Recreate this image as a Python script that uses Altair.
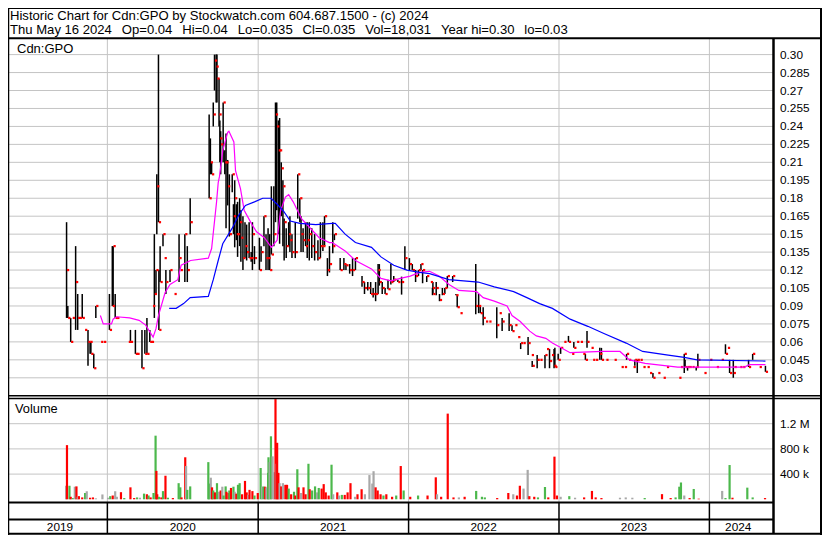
import altair as alt
import pandas as pd

# ---------------- daily bars (date, low, high, close) ----------------
bar_dates = (
    ["2019-09-24", "2019-09-27", "2019-10-04", "2019-10-08", "2019-10-16", "2019-10-21", "2019-10-25", "2019-11-01",
     "2019-11-07", "2019-11-15", "2019-11-20", "2019-11-22", "2019-11-29", "2019-12-04", "2019-12-16", "2019-12-23"]
    + ["2020-01-06", "2020-01-13", "2020-01-15", "2020-01-20", "2020-01-24", "2020-02-21", "2020-02-26", "2020-03-09",
       "2020-03-13", "2020-03-25", "2020-04-01", "2020-04-06", "2020-04-13", "2020-04-17", "2020-04-20", "2020-04-24",
       "2020-04-28", "2020-04-30", "2020-05-04", "2020-05-05", "2020-05-08", "2020-05-15", "2020-05-18", "2020-05-22",
       "2020-06-01", "2020-06-11",
       "2020-06-23", "2020-06-26", "2020-07-07", "2020-07-13", "2020-07-20", "2020-09-04", "2020-09-07", "2020-09-10",
       "2020-09-14", "2020-09-17", "2020-09-21", "2020-09-23", "2020-09-28", "2020-09-30", "2020-10-02", "2020-10-08",
       "2020-10-12", "2020-10-15", "2020-10-19", "2020-10-23", "2020-10-30", "2020-11-02", "2020-11-05", "2020-11-09",
       "2020-11-12", "2020-11-17", "2020-11-20", "2020-11-25", "2020-11-30", "2020-12-04", "2020-12-10", "2020-12-15",
       "2020-12-18", "2020-12-23"]
    + ["2021-01-04", "2021-01-08", "2021-01-15", "2021-01-20", "2021-01-25", "2021-01-29", "2021-02-02", "2021-02-08",
       "2021-02-12", "2021-02-15", "2021-02-19", "2021-02-22", "2021-02-26", "2021-03-02", "2021-03-05", "2021-03-10",
       "2021-03-16", "2021-03-19", "2021-03-24", "2021-04-01", "2021-04-07", "2021-04-12", "2021-04-15", "2021-04-20",
       "2021-04-26", "2021-04-30", "2021-05-05", "2021-05-11", "2021-05-18", "2021-05-26", "2021-06-01",
       "2021-06-07", "2021-06-11", "2021-06-18", "2021-06-23", "2021-07-01", "2021-07-05", "2021-07-19", "2021-07-28",
       "2021-08-02", "2021-08-11", "2021-08-18", "2021-08-25", "2021-09-10", "2021-09-16", "2021-09-24", "2021-10-01",
       "2021-10-07", "2021-10-13", "2021-10-19", "2021-10-22", "2021-10-29", "2021-11-05", "2021-11-12", "2021-11-19",
       "2021-11-26", "2021-12-06", "2021-12-15", "2021-12-23"]
    + ["2022-01-03", "2022-01-10", "2022-01-18", "2022-01-25", "2022-01-31",
       "2022-02-04", "2022-02-14", "2022-02-23", "2022-02-28", "2022-03-01", "2022-03-09", "2022-03-17", "2022-03-24",
       "2022-03-30", "2022-04-05", "2022-04-18", "2022-04-26", "2022-04-29", "2022-05-06", "2022-06-13", "2022-06-20",
       "2022-06-24", "2022-07-01", "2022-07-07", "2022-07-15", "2022-08-03", "2022-08-09", "2022-08-16", "2022-09-02",
       "2022-09-09", "2022-09-16", "2022-09-23", "2022-09-30", "2022-10-06", "2022-10-18", "2022-10-26", "2022-10-28",
       "2022-11-09", "2022-11-16", "2022-11-28", "2022-12-02", "2022-12-09", "2022-12-14", "2022-12-20",
       "2022-12-22", "2022-12-30"]
    + ["2023-01-05", "2023-01-13", "2023-01-24", "2023-02-01", "2023-02-06", "2023-02-13", "2023-02-22", "2023-02-28",
       "2023-03-06", "2023-03-10", "2023-03-20", "2023-03-24", "2023-03-31", "2023-04-10", "2023-04-14", "2023-04-25",
       "2023-05-15", "2023-06-01", "2023-06-09", "2023-06-14", "2023-06-19", "2023-06-30", "2023-07-04", "2023-07-10",
       "2023-07-17", "2023-07-24", "2023-08-03", "2023-08-09", "2023-08-17", "2023-08-29", "2023-09-11", "2023-09-19",
       "2023-10-19", "2023-10-23", "2023-11-01", "2023-11-03", "2023-11-09", "2023-11-13", "2023-11-20", "2023-11-30",
       "2023-12-04", "2023-12-19"]
    + ["2024-01-02", "2024-01-18", "2024-01-30", "2024-02-09", "2024-02-14", "2024-02-19", "2024-02-28", "2024-03-01",
       "2024-03-15", "2024-03-22", "2024-04-05", "2024-04-15", "2024-05-01", "2024-05-16"]
)
bar_low = (
    [0.08, 0.08, 0.06, 0.08, 0.07, 0.07, 0.08, 0.08, 0.07, 0.04, 0.05, 0.05, 0.038, 0.08, 0.06, 0.06]
    + [0.07, 0.09, 0.09, 0.08, 0.08, 0.06, 0.06, 0.05, 0.05, 0.038, 0.05, 0.05, 0.06, 0.06, 0.09, 0.08,
       0.10, 0.15, 0.16, 0.07, 0.11, 0.14, 0.13, 0.10, 0.11, 0.10,
       0.11, 0.12, 0.11, 0.11, 0.15, 0.18, 0.20, 0.20, 0.24, 0.27, 0.26, 0.26, 0.24, 0.21, 0.20, 0.21,
       0.20, 0.155, 0.174, 0.148, 0.185, 0.15, 0.139, 0.145, 0.131, 0.14, 0.127, 0.12, 0.13, 0.128, 0.13, 0.127,
       0.12, 0.125]
    + [0.12, 0.127, 0.14, 0.12, 0.12, 0.12, 0.133, 0.14, 0.16, 0.17, 0.15, 0.142, 0.165, 0.14, 0.128, 0.13,
       0.14, 0.135, 0.13, 0.13, 0.163, 0.16, 0.135, 0.135, 0.14, 0.13, 0.128, 0.13, 0.128, 0.128, 0.13,
       0.136, 0.14, 0.115, 0.118, 0.134, 0.145, 0.12, 0.12, 0.12, 0.117, 0.115, 0.12, 0.106, 0.10, 0.103, 0.10,
       0.097, 0.094, 0.10, 0.107, 0.10, 0.10, 0.104, 0.108, 0.11, 0.11, 0.0995, 0.12]
    + [0.12, 0.12, 0.11, 0.115, 0.12,
       0.109, 0.11, 0.11, 0.099, 0.10, 0.099, 0.094, 0.099, 0.10, 0.105, 0.11, 0.099, 0.089, 0.084, 0.083, 0.084,
       0.084, 0.074, 0.077, 0.077, 0.063, 0.084, 0.069, 0.069, 0.069, 0.074, 0.064, 0.054, 0.059, 0.049, 0.049, 0.039,
       0.038, 0.045, 0.038, 0.054, 0.038, 0.049, 0.038,
       0.039, 0.045]
    + [0.05, 0.06, 0.06, 0.05, 0.055, 0.06, 0.06, 0.05, 0.045, 0.055, 0.055, 0.045, 0.045, 0.045, 0.045, 0.045,
       0.045, 0.039, 0.039, 0.045, 0.045, 0.039, 0.04, 0.034, 0.045, 0.039, 0.039, 0.034, 0.03, 0.034, 0.03, 0.039,
       0.03, 0.039, 0.034, 0.039, 0.036, 0.039, 0.039, 0.036, 0.039, 0.034]
    + [0.045, 0.039, 0.045, 0.05, 0.055, 0.034, 0.03, 0.039, 0.039, 0.039, 0.039, 0.045, 0.039, 0.035]
)
bar_high = (
    [0.16, 0.09, 0.08, 0.08, 0.14, 0.10, 0.08, 0.10, 0.07, 0.07, 0.06, 0.06, 0.05, 0.09, 0.06, 0.06]
    + [0.10, 0.14, 0.14, 0.10, 0.08, 0.06, 0.07, 0.07, 0.05, 0.07, 0.07, 0.08, 0.07, 0.06, 0.09, 0.15,
       0.12, 0.20, 0.30, 0.12, 0.14, 0.15, 0.13, 0.12, 0.12, 0.10,
       0.15, 0.12, 0.15, 0.14, 0.18, 0.25, 0.23, 0.21, 0.26, 0.30, 0.30, 0.30, 0.28, 0.245, 0.236, 0.26,
       0.22, 0.234, 0.212, 0.20, 0.20, 0.175, 0.195, 0.175, 0.177, 0.18, 0.17, 0.165, 0.16, 0.158, 0.16, 0.135,
       0.16, 0.14]
    + [0.147, 0.14, 0.165, 0.15, 0.155, 0.15, 0.19, 0.19, 0.26, 0.26, 0.245, 0.247, 0.21, 0.195, 0.163, 0.155,
       0.16, 0.165, 0.15, 0.16, 0.20, 0.18, 0.165, 0.155, 0.16, 0.16, 0.16, 0.155, 0.15, 0.145, 0.16,
       0.16, 0.165, 0.13, 0.14, 0.16, 0.15, 0.13, 0.13, 0.125, 0.125, 0.13, 0.13, 0.115, 0.11, 0.11, 0.11,
       0.105, 0.11, 0.125, 0.125, 0.11, 0.105, 0.112, 0.125, 0.115, 0.112, 0.1145, 0.14]
    + [0.13, 0.125, 0.12, 0.12, 0.125,
       0.12, 0.115, 0.11, 0.105, 0.11, 0.11, 0.10, 0.105, 0.105, 0.115, 0.115, 0.10, 0.099, 0.084, 0.125, 0.10,
       0.09, 0.089, 0.077, 0.077, 0.089, 0.084, 0.08, 0.084, 0.074, 0.074, 0.064, 0.059, 0.059, 0.064, 0.049, 0.044,
       0.049, 0.045, 0.049, 0.054, 0.054, 0.049, 0.054,
       0.055, 0.05]
    + [0.055, 0.06, 0.065, 0.05, 0.06, 0.06, 0.06, 0.05, 0.05, 0.069, 0.055, 0.045, 0.045, 0.055, 0.055, 0.045,
       0.045, 0.039, 0.039, 0.05, 0.045, 0.039, 0.045, 0.045, 0.045, 0.039, 0.039, 0.034, 0.034, 0.034, 0.03, 0.039,
       0.03, 0.039, 0.05, 0.045, 0.039, 0.039, 0.039, 0.039, 0.05, 0.034]
    + [0.045, 0.039, 0.045, 0.058, 0.055, 0.045, 0.045, 0.039, 0.039, 0.039, 0.045, 0.05, 0.039, 0.04]
)
bar_close = (
    [0.12, 0.08, 0.06, 0.08, 0.11, 0.08, 0.08, 0.08, 0.07, 0.06, 0.06, 0.05, 0.038, 0.09, 0.06, 0.06]
    + [0.07, 0.09, 0.14, 0.08, 0.08, 0.06, 0.06, 0.05, 0.05, 0.038, 0.05, 0.05, 0.06, 0.06, 0.09, 0.10,
       0.12, 0.19, 0.16, 0.07, 0.11, 0.15, 0.13, 0.11, 0.12, 0.10,
       0.13, 0.12, 0.15, 0.12, 0.16, 0.18, 0.21, 0.20, 0.25, 0.295, 0.29, 0.28, 0.25, 0.23, 0.225, 0.26,
       0.21, 0.21, 0.19, 0.15, 0.20, 0.165, 0.18, 0.15, 0.15, 0.16, 0.147, 0.13, 0.14, 0.135, 0.13, 0.13,
       0.15, 0.13]
    + [0.12, 0.135, 0.165, 0.13, 0.13, 0.12, 0.133, 0.15, 0.25, 0.24, 0.22, 0.22, 0.205, 0.19, 0.16, 0.14,
       0.15, 0.145, 0.135, 0.135, 0.20, 0.18, 0.15, 0.145, 0.14, 0.145, 0.15, 0.14, 0.135, 0.13, 0.14,
       0.14, 0.165, 0.12, 0.125, 0.14, 0.15, 0.12, 0.125, 0.124, 0.12, 0.12, 0.13, 0.11, 0.105, 0.105, 0.10,
       0.10, 0.10, 0.12, 0.11, 0.105, 0.10, 0.104, 0.11, 0.112, 0.11, 0.11, 0.13]
    + [0.125, 0.12, 0.115, 0.12, 0.125,
       0.12, 0.115, 0.11, 0.105, 0.10, 0.105, 0.095, 0.10, 0.105, 0.115, 0.115, 0.099, 0.089, 0.084, 0.09, 0.09,
       0.084, 0.08, 0.077, 0.077, 0.074, 0.084, 0.077, 0.074, 0.069, 0.074, 0.064, 0.059, 0.059, 0.059, 0.049, 0.04,
       0.045, 0.045, 0.049, 0.054, 0.044, 0.049, 0.04,
       0.039, 0.045]
    + [0.055, 0.06, 0.06, 0.05, 0.055, 0.06, 0.06, 0.05, 0.045, 0.06, 0.055, 0.045, 0.045, 0.05, 0.045, 0.045,
       0.045, 0.039, 0.039, 0.05, 0.045, 0.039, 0.045, 0.045, 0.045, 0.039, 0.039, 0.034, 0.03, 0.034, 0.03, 0.039,
       0.03, 0.039, 0.05, 0.039, 0.039, 0.039, 0.039, 0.039, 0.045, 0.034]
    + [0.045, 0.039, 0.045, 0.05, 0.055, 0.034, 0.034, 0.039, 0.039, 0.039, 0.039, 0.05, 0.039, 0.035]
)

# ---------------- moving averages ----------------
ma_short_dates = ["2019-12-15", "2019-12-22", "2020-01-11", "2020-01-15", "2020-01-23", "2020-02-24", "2020-03-18",
                  "2020-04-03", "2020-04-21", "2020-04-28", "2020-05-04", "2020-05-20", "2020-06-01", "2020-06-20",
                  "2020-06-28", "2020-07-21", "2020-09-02", "2020-09-10", "2020-09-22", "2020-09-26", "2020-09-29",
                  "2020-10-07", "2020-10-19", "2020-10-22", "2020-11-03", "2020-11-07", "2020-11-19", "2020-11-28",
                  "2020-12-17", "2020-12-28", "2021-01-16", "2021-02-02", "2021-02-16", "2021-02-24", "2021-03-08",
                  "2021-03-16", "2021-03-27", "2021-04-16", "2021-05-02", "2021-05-29", "2021-06-23", "2021-06-30",
                  "2021-07-31", "2021-08-25", "2021-10-03", "2021-10-26", "2021-11-19", "2021-12-12", "2022-01-05",
                  "2022-01-28", "2022-02-21", "2022-03-16", "2022-04-09", "2022-05-03", "2022-06-15", "2022-07-01",
                  "2022-07-28", "2022-08-28", "2022-09-09", "2022-09-29", "2022-10-22", "2022-11-07", "2022-11-30",
                  "2022-12-16", "2023-01-28", "2023-04-16", "2023-05-29", "2023-06-21", "2023-07-29", "2023-10-16",
                  "2024-03-26", "2024-04-07", "2024-05-16"]
ma_short_values = [0.082, 0.075, 0.075, 0.079, 0.081, 0.080, 0.078, 0.074, 0.064, 0.071, 0.082, 0.101, 0.108, 0.112,
                   0.124, 0.128, 0.130, 0.138, 0.177, 0.193, 0.198, 0.220, 0.235, 0.236, 0.227, 0.203, 0.188, 0.170,
                   0.158, 0.152, 0.147, 0.139, 0.145, 0.169, 0.181, 0.183, 0.177, 0.163, 0.157, 0.147, 0.143, 0.143,
                   0.136, 0.128, 0.121, 0.113, 0.111, 0.113, 0.115, 0.118, 0.119, 0.115, 0.108, 0.103, 0.102, 0.097,
                   0.094, 0.090, 0.082, 0.077, 0.069, 0.065, 0.063, 0.059, 0.051, 0.052, 0.052, 0.045, 0.042, 0.039,
                   0.039, 0.041, 0.041]
ma_long_dates = ["2020-05-30", "2020-06-16", "2020-07-04", "2020-07-20", "2020-09-02", "2020-09-14", "2020-09-26",
                 "2020-10-07", "2020-10-30", "2020-11-15", "2020-12-01", "2020-12-23", "2021-01-12", "2021-02-01",
                 "2021-02-16", "2021-03-04", "2021-03-20", "2021-04-12", "2021-05-21", "2021-06-30", "2021-07-07",
                 "2021-07-31", "2021-08-25", "2021-10-03", "2021-10-26", "2021-11-26", "2021-12-28", "2022-01-28",
                 "2022-02-21", "2022-04-09", "2022-06-19", "2022-07-28", "2022-09-13", "2022-10-15", "2022-11-15",
                 "2022-12-16", "2023-01-28", "2023-03-12", "2023-04-20", "2023-06-13", "2023-07-23", "2023-09-23",
                 "2023-11-01", "2023-12-02", "2024-05-16"]
ma_long_values = [0.088, 0.088, 0.092, 0.097, 0.098, 0.112, 0.128, 0.142, 0.155, 0.166, 0.174, 0.177, 0.180, 0.180,
                  0.175, 0.169, 0.161, 0.159, 0.158, 0.159, 0.159, 0.150, 0.143, 0.139, 0.131, 0.124, 0.120, 0.118,
                  0.117, 0.112, 0.110, 0.106, 0.102, 0.097, 0.092, 0.088, 0.079, 0.073, 0.067, 0.059, 0.052, 0.049,
                  0.047, 0.045, 0.044]

# ---------------- volume (thousands of shares) ----------------
vol_dates = (
    ["2019-09-23", "2019-09-25", "2019-10-01", "2019-10-04", "2019-10-09", "2019-10-14", "2019-10-18", "2019-10-21",
     "2019-10-24", "2019-11-01", "2019-11-08", "2019-11-12", "2019-11-20", "2019-11-27", "2019-12-04", "2019-12-20"]
    + ["2020-01-03", "2020-01-08", "2020-01-14", "2020-01-20", "2020-01-24", "2020-02-03", "2020-02-11", "2020-02-26",
       "2020-03-06", "2020-03-13", "2020-03-20", "2020-03-30", "2020-04-06", "2020-04-10", "2020-04-15", "2020-04-22",
       "2020-04-27", "2020-04-29", "2020-05-01", "2020-05-05", "2020-05-11", "2020-05-15", "2020-05-21", "2020-05-27",
       "2020-06-08", "2020-06-22", "2020-06-26", "2020-06-29", "2020-07-08", "2020-07-10", "2020-07-13", "2020-07-20",
       "2020-09-02", "2020-09-04", "2020-09-08", "2020-09-11", "2020-09-14", "2020-09-18", "2020-09-23", "2020-09-28",
       "2020-10-02", "2020-10-06", "2020-10-09", "2020-10-14", "2020-10-16", "2020-10-21", "2020-10-23", "2020-10-27",
       "2020-11-02", "2020-11-05", "2020-11-09", "2020-11-13", "2020-11-17", "2020-11-23", "2020-11-30", "2020-12-04",
       "2020-12-08", "2020-12-11", "2020-12-18", "2020-12-23", "2020-12-31"]
    + ["2021-01-07", "2021-01-11", "2021-01-14", "2021-01-18", "2021-01-21", "2021-01-25", "2021-01-26", "2021-01-29",
       "2021-02-01", "2021-02-05", "2021-02-09", "2021-02-12", "2021-02-15", "2021-02-16", "2021-02-19", "2021-02-22",
       "2021-02-26", "2021-03-02", "2021-03-08", "2021-03-12", "2021-03-16", "2021-03-22", "2021-03-29", "2021-04-01",
       "2021-04-06", "2021-04-09", "2021-04-15", "2021-04-21", "2021-04-26", "2021-05-03", "2021-05-06", "2021-05-12",
       "2021-05-19", "2021-05-24", "2021-05-28", "2021-06-04", "2021-06-09", "2021-06-14", "2021-06-21", "2021-06-28",
       "2021-07-02", "2021-07-12", "2021-07-16", "2021-07-23", "2021-07-30", "2021-08-06", "2021-08-13", "2021-08-24",
       "2021-08-30", "2021-09-09", "2021-09-17", "2021-09-28", "2021-10-05", "2021-10-08", "2021-10-13", "2021-10-18",
       "2021-10-25", "2021-11-01", "2021-11-08", "2021-11-22", "2021-12-02", "2021-12-13", "2021-12-20"]
    + ["2022-01-05", "2022-01-24", "2022-02-16", "2022-03-08", "2022-03-11", "2022-03-21", "2022-04-06", "2022-04-20",
       "2022-05-03", "2022-05-17", "2022-06-14", "2022-06-28", "2022-07-05", "2022-08-04", "2022-08-31", "2022-09-12",
       "2022-09-21", "2022-09-28", "2022-10-07", "2022-10-17", "2022-10-21", "2022-11-02", "2022-11-11", "2022-11-28",
       "2022-12-06", "2022-12-21", "2022-12-27"]
    + ["2023-01-05", "2023-01-26", "2023-02-09", "2023-03-03", "2023-03-22", "2023-03-31", "2023-04-14", "2023-05-29",
       "2023-06-12", "2023-06-28", "2023-07-28", "2023-09-08", "2023-09-29", "2023-10-11", "2023-10-20", "2023-10-24",
       "2023-11-01", "2023-11-14", "2023-11-24", "2023-12-06"]
    + ["2024-02-01", "2024-02-09", "2024-02-19", "2024-02-26", "2024-04-02", "2024-04-15", "2024-05-15"]
)
vol_thousands = (
    [215, 860, 215, 40, 20, 200, 205, 40, 50, 30, 100, 128, 25, 30, 15, 77]
    + [25, 50, 60, 128, 40, 113, 20, 190, 20, 30, 25, 90, 80, 60, 30, 100,
       1010, 451, 80, 40, 30, 130, 374, 25, 20, 256, 190, 30, 667, 528, 150, 205,
       590, 250, 343, 190, 140, 110, 256, 120, 140, 200, 60, 205, 120, 100, 140, 180,
       200, 120, 90, 230, 256, 80, 292, 110, 70, 150, 130, 60, 100]
    + [497, 200, 205, 200, 190, 420, 667, 590, 1000, 682, 430, 1590, 564, 897, 420, 256,
       205, 256, 230, 230, 170, 80, 120, 60, 477, 190, 100, 190, 80, 564, 160, 140,
       205, 110, 180, 170, 241, 110, 60, 549, 80, 110, 60, 70, 70, 110, 256, 40,
       80, 160, 80, 385, 250, 446, 190, 140, 80, 60, 80, 40, 60, 528, 140]
    + [40, 60, 60, 349, 80, 40, 1360, 30, 30, 40, 133, 40, 30, 20, 100, 80,
       60, 215, 170, 467, 50, 40, 30, 195, 30, 677, 60]
    + [40, 50, 25, 30, 133, 30, 20, 25, 30, 25, 20, 82, 20, 30, 200, 267, 60, 20, 164, 10]
    + [133, 20, 544, 25, 185, 30, 20]
)
vol_direction = (
    ["flat", "down", "up", "down", "up", "flat", "down", "flat", "down", "down", "up", "flat", "down", "down",
     "flat", "flat"]
    + ["flat", "up", "down", "flat", "flat", "down", "up", "down", "down", "up", "flat", "up", "down", "up", "down",
       "up", "up", "down", "down", "up", "down", "up", "down", "up", "down", "up", "up", "down", "down", "flat", "up",
       "up", "up", "up", "flat", "down", "up", "down", "up", "flat", "down", "flat", "up", "up", "down", "down", "up",
       "down", "up", "flat", "down", "up", "up", "down", "down", "down", "flat", "down", "down", "up", "down"]
    + ["up", "flat", "up", "down", "flat", "up", "up", "flat", "up", "flat", "flat", "down", "flat", "down", "down",
       "flat", "down", "flat", "down", "down", "up", "down", "up", "down", "up", "down", "flat", "down", "down", "up",
       "down", "up", "up", "flat", "up", "down", "down", "down", "down", "up", "flat", "down", "flat", "up", "down",
       "down", "down", "flat", "down", "down", "flat", "flat", "flat", "flat", "down", "down", "down", "up", "down",
       "down", "up", "down", "up"]
    + ["down", "up", "down", "down", "flat", "down", "down", "down", "flat", "down", "up", "up", "up", "down", "down",
       "flat", "down", "down", "flat", "flat", "down", "down", "up", "up", "down", "down", "down"]
    + ["flat", "up", "flat", "down", "down", "down", "down", "flat", "flat", "flat", "up", "down", "down", "up", "up",
       "up", "flat", "down", "up", "down"]
    + ["flat", "up", "up", "down", "up", "up", "down"]
)

# ---------------- axes text ----------------
price_ticks = [0.03, 0.045, 0.06, 0.075, 0.09, 0.105, 0.12, 0.135, 0.15, 0.165, 0.18, 0.195, 0.21, 0.225, 0.24,
               0.255, 0.27, 0.285, 0.30]
price_labels = ["0.03", "0.045", "0.06", "0.075", "0.09", "0.105", "0.12", "0.135", "0.15", "0.165", "0.18", "0.195",
                "0.21", "0.225", "0.24", "0.255", "0.27", "0.285", "0.30"]
vol_ticks = [400, 800, 1200]
vol_labels = ["400 k", "800 k", "1.2 M"]
year_boundaries = ["2020-01-01", "2021-01-01", "2022-01-01", "2023-01-01", "2024-01-01"]
year_names = ["2019", "2020", "2021", "2022", "2023", "2024"]
year_label_dates = ["2019-09-08", "2020-07-02", "2021-07-02", "2022-07-02", "2023-07-02", "2024-03-11"]

header_1 = "Historic Chart for Cdn:GPO by Stockwatch.com 604.687.1500 - (c) 2024"
sp = "\u00a0\u00a0\u2009"
header_2 = ("Thu May 16 2024" + sp + "Op=0.04" + sp + "Hi=0.04" + sp + "Lo=0.035" + sp + "Cl=0.035" + sp
            + "Vol=18,031" + sp + "Year hi=0.30" + sp + "lo=0.03")

assert len(bar_dates) == len(bar_low) == len(bar_high) == len(bar_close), (
    len(bar_dates), len(bar_low), len(bar_high), len(bar_close))
assert len(vol_dates) == len(vol_thousands) == len(vol_direction), (
    len(vol_dates), len(vol_thousands), len(vol_direction))
assert len(ma_short_dates) == len(ma_short_values) and len(ma_long_dates) == len(ma_long_values)

# ---------------- layout ----------------
W, H = 814, 527
PLOT_R = 765.5
FONT = "Liberation Sans"

bars_df = pd.DataFrame({"date": bar_dates, "low": bar_low, "high": bar_high, "close": bar_close})
vol_df = pd.DataFrame({"date": vol_dates, "vol": vol_thousands, "dir": vol_direction})
mas_df = pd.DataFrame({"date": ma_short_dates, "ma": ma_short_values})
mal_df = pd.DataFrame({"date": ma_long_dates, "ma": ma_long_values})
pt_df = pd.DataFrame({"v": price_ticks, "label": price_labels})
vt_df = pd.DataFrame({"v": vol_ticks, "label": vol_labels})
yb_df = pd.DataFrame({"b": year_boundaries})
yl_df = pd.DataFrame({"mid": year_label_dates, "name": year_names})

xs = alt.Scale(domain=[alt.DateTime(year=2019, month=5, date=17, utc=True),
                       alt.DateTime(year=2024, month=5, date=21, utc=True)],
               range=[0, PLOT_R - 1])
ps = alt.Scale(domain=[0.03, 0.30], range=[369.8, 46.6], zero=False, nice=False)
vs = alt.Scale(domain=[0, 1600], range=[491.3, 390.5], zero=False, nice=False)

X = lambda f: alt.X(f, scale=xs, axis=None)
GRID = "#c4c4c4"

price_grid = alt.Chart(pt_df).mark_rule(color=GRID, strokeWidth=1).encode(
    y=alt.Y("v:Q", scale=ps, axis=None), x=alt.value(0), x2=alt.value(PLOT_R))
vol_grid = alt.Chart(vt_df).mark_rule(color=GRID, strokeWidth=1).encode(
    y=alt.Y("v:Q", scale=vs, axis=None), x=alt.value(0), x2=alt.value(PLOT_R))
year_grid_p = alt.Chart(yb_df).mark_rule(color=GRID, strokeWidth=1).encode(
    x=X("b:T"), y=alt.value(31), y2=alt.value(387))
year_grid_v = alt.Chart(yb_df).mark_rule(color=GRID, strokeWidth=1).encode(
    x=X("b:T"), y=alt.value(391), y2=alt.value(494))
year_sep = alt.Chart(yb_df).mark_rule(color="black", strokeWidth=1.5).encode(
    x=X("b:T"), y=alt.value(494.5), y2=alt.value(526))

hl = alt.Chart(bars_df).mark_rule(color="black", strokeWidth=1.5).encode(
    x=X("date:T"), y=alt.Y("low:Q", scale=ps, axis=None), y2="high:Q")
cl = alt.Chart(bars_df).mark_square(size=5, color="#ff0000", opacity=1, xOffset=1.5).encode(
    x=X("date:T"), y=alt.Y("close:Q", scale=ps, axis=None))
ma_s = alt.Chart(mas_df).mark_line(color="#ff00ff", strokeWidth=1.2).encode(
    x=X("date:T"), y=alt.Y("ma:Q", scale=ps, axis=None))
ma_l = alt.Chart(mal_df).mark_line(color="#0000ff", strokeWidth=1.2).encode(
    x=X("date:T"), y=alt.Y("ma:Q", scale=ps, axis=None))

vol = alt.Chart(vol_df).mark_bar(size=2.2).encode(
    x=X("date:T"), y=alt.Y("vol:Q", scale=vs, axis=None),
    color=alt.Color("dir:N", scale=alt.Scale(domain=["up", "down", "flat"],
                                             range=["#4cb84c", "#ff0000", "#a8a8a8"]), legend=None))

pt_text = alt.Chart(pt_df).mark_text(align="left", baseline="middle", fontSize=11.8, font=FONT,
                                     color="black").encode(
    y=alt.Y("v:Q", scale=ps, axis=None), x=alt.value(772), text="label:N")
vt_text = alt.Chart(vt_df).mark_text(align="left", baseline="middle", fontSize=11.8, font=FONT,
                                     color="black").encode(
    y=alt.Y("v:Q", scale=vs, axis=None), x=alt.value(772), text="label:N")
yl_text = alt.Chart(yl_df).mark_text(align="center", baseline="middle", fontSize=11.8, font=FONT,
                                     color="black").encode(
    x=X("mid:T"), y=alt.value(518.5), text="name:N")


def label(txt, x, y, size=13.1):
    return alt.Chart(pd.DataFrame({"t": [txt]})).mark_text(
        align="left", baseline="middle", fontSize=size, font=FONT, color="black").encode(
        x=alt.value(x), y=alt.value(y), text="t:N")


frame_df = pd.DataFrame({
    "x": [0, 0, 0, 0, 0, 0, 0, 0.5, PLOT_R, 813],
    "x2": [W, W, W, W, PLOT_R, PLOT_R, W, 0.5, PLOT_R, 813],
    "y": [0.5, 30.2, 387.7, 390.6, 494.5, 511.5, 525.8, 0, 30, 0],
    "y2": [0.5, 30.2, 387.7, 390.6, 494.5, 511.5, 525.8, H, 526, H],
    "w": [1, 2, 1.5, 1.5, 2, 2, 2, 1.5, 2.5, 2],
})
frame = alt.Chart(frame_df).mark_rule(color="black").encode(
    x=alt.X("x:Q", scale=None), x2="x2:Q", y=alt.Y("y:Q", scale=None), y2="y2:Q",
    strokeWidth=alt.StrokeWidth("w:Q", scale=None))

chart = alt.layer(
    price_grid, vol_grid, year_grid_p, year_grid_v, year_sep,
    hl, cl, ma_s, ma_l, vol,
    pt_text, vt_text, yl_text,
    label(header_1, 2, 8.3), label(header_2, 2, 22.3),
    label("Cdn:GPO", 9, 40.5, 13), label("Volume", 7, 401, 12.8),
    frame,
).resolve_scale(y="independent").properties(
    width=W, height=H, autosize=alt.AutoSizeParams(type="none"), padding=0, background="white"
).configure_view(stroke=None)

chart.save("out.html", embed_options={"renderer": "svg", "actions": False})
